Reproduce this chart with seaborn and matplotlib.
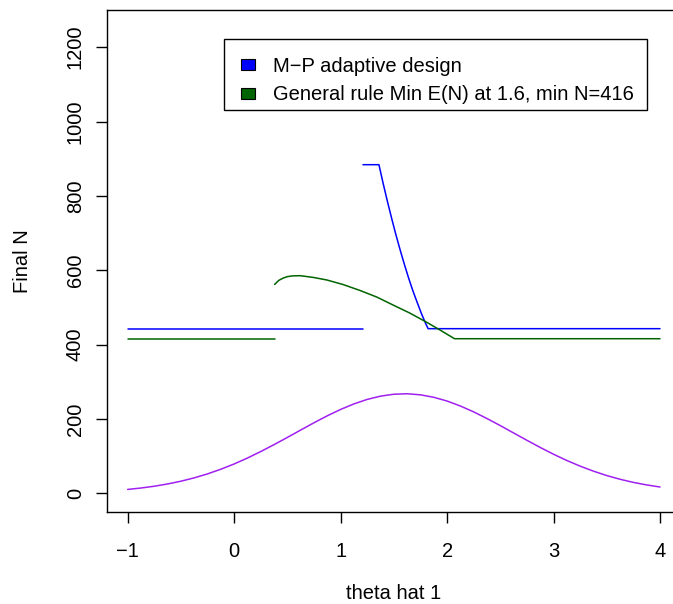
import matplotlib
matplotlib.use("Agg")
import matplotlib.pyplot as plt
import seaborn as sns
import numpy as np
import pandas as pd
from matplotlib.patches import Rectangle
from matplotlib.legend_handler import HandlerPatch

# ---- data ----
blue_left_x = [-1.0, 1.21]
blue_left_y = [443, 443]
blue_right_x = [1.21, 1.36, 1.40, 1.44, 1.48, 1.52, 1.56, 1.60, 1.64, 1.68, 1.72,
                1.76, 1.80, 1.822, 4.0]
blue_right_y = [884, 884, 833, 785, 739, 695, 654, 615, 578, 544, 513,
                483, 456, 443, 443]

green_left_x = [-1.0, 0.38]
green_left_y = [416, 416]
green_right_x = [0.38, 0.42, 0.46, 0.50, 0.55, 0.62, 0.74, 0.87, 1.02, 1.18, 1.34,
                 1.49, 1.65, 1.81, 1.93, 2.07, 4.0]
green_right_y = [562, 573, 579, 583, 585, 585.5, 581, 574, 562, 546, 528,
                 507, 485, 460, 440, 416, 416]

purple_x = [-1.0, -0.875, -0.75, -0.625, -0.5, -0.375, -0.25, -0.125, 0.0, 0.125,
            0.25, 0.375, 0.5, 0.625, 0.75, 0.875, 1.0, 1.125, 1.25, 1.375, 1.5,
            1.625, 1.75, 1.875, 2.0, 2.125, 2.25, 2.375, 2.5, 2.625, 2.75, 2.875,
            3.0, 3.125, 3.25, 3.375, 3.5, 3.625, 3.75, 3.875, 4.0]
purple_y = [10.7, 14.5, 19.3, 25.4, 32.8, 41.8, 52.5, 65.0, 79.2, 95.1,
            112.6, 131.2, 150.6, 170.4, 190.0, 208.7, 225.8, 240.7, 252.8, 261.6, 266.7,
            268.0, 265.1, 258.5, 248.4, 235.0, 219.2, 201.3, 182.3, 162.5, 142.8, 123.6,
            105.3, 88.5, 73.3, 59.8, 48.0, 38.0, 29.6, 22.8, 17.2]

legend_labels = ["M\u2212P adaptive design", "General rule Min E(N) at 1.6, min N=416"]
legend_colors = ["#0000FF", "#006400"]
x_ticks = [-1, 0, 1, 2, 3, 4]
y_ticks = [0, 200, 400, 600, 800, 1000, 1200]

# ---- style ----
sns.set_style("ticks")
plt.rcParams['font.family'] = ['Liberation Sans', 'DejaVu Sans']
plt.rcParams['text.color'] = 'black'
plt.rcParams['axes.labelcolor'] = 'black'
plt.rcParams['xtick.color'] = 'black'
plt.rcParams['ytick.color'] = 'black'
FS = 14.5

W, H = 673, 604
fig = plt.figure(figsize=(W / 100, H / 100), dpi=100)
left, right, top, bottom = 106.7, 673.0, 10.0, 512.0
ax = fig.add_axes([left / W, 1 - bottom / H, (right - left) / W, (bottom - top) / H])
ax.patch.set_visible(False)

lw = 1.1
segments = [
    (blue_left_x, blue_left_y, "#0000FF"),
    (blue_right_x, blue_right_y, "#0000FF"),
    (green_left_x, green_left_y, "#006400"),
    (green_right_x, green_right_y, "#006400"),
    (purple_x, purple_y, "#A020F0"),
]
for xs, ys, c in segments:
    df = pd.DataFrame({"x": xs, "y": ys})
    sns.lineplot(data=df, x="x", y="y", color=c, linewidth=lw, sort=False,
                 estimator=None, ax=ax)

ax.set_xlim(-1.197, 4.122)
ax.set_ylim(-50, 1300)
ax.set_xticks(x_ticks)
ax.set_yticks(y_ticks)
ax.set_xticklabels([f"{t}".replace("-", "\u2212") for t in x_ticks], fontsize=FS)
ax.set_yticklabels([str(t) for t in y_ticks], fontsize=FS, rotation=90, va="center")

for name, s in ax.spines.items():
    s.set_color("black")
    s.set_linewidth(1.0)
ax.spines["right"].set_visible(False)

ax.tick_params(axis="both", direction="out", length=7.9, width=1.0, color="black",
               labelcolor="black")
ax.tick_params(axis="x", pad=13.5)
ax.tick_params(axis="y", pad=7.9)

ax.set_xlabel("theta hat 1", fontsize=FS, va="center", color="black")
ax.xaxis.set_label_coords((394 - left) / (right - left), (bottom - 593.5) / (bottom - top))
ax.set_ylabel("Final N", fontsize=FS, va="center", color="black")
ax.yaxis.set_label_coords((23 - left) / (right - left), 0.5)


class SquareHandler(HandlerPatch):
    def create_artists(self, legend, orig_handle, xdescent, ydescent, width, height,
                       fontsize, trans):
        w = 14 * 0.72
        h = 11 * 0.72
        r = Rectangle((-xdescent, -ydescent + (height - h) / 2), w, h,
                      facecolor=orig_handle.get_facecolor(), edgecolor="black",
                      linewidth=0.8, transform=trans)
        return [r]


# legend frame drawn separately (inside the axes), entries placed inside it
frame = Rectangle((224 / W, 1 - 110 / H), (647 - 224) / W, (110 - 39.3) / H,
                  transform=fig.transFigure, facecolor="white", edgecolor="black",
                  linewidth=1.0, zorder=4, clip_on=False)
ax.add_patch(frame)

handles = [Rectangle((0, 0), 1, 1, facecolor=c) for c in legend_colors]
leg = ax.legend(handles, legend_labels, loc="upper left",
                bbox_to_anchor=(240.7 / W, 1 - 57.0 / H),
                bbox_transform=fig.transFigure, borderaxespad=0,
                fontsize=FS, borderpad=0, labelspacing=0.46,
                handlelength=14 / (FS * 100 / 72), handleheight=0.7,
                handletextpad=0.91, frameon=False,
                handler_map={Rectangle: SquareHandler()})
leg.set_zorder(6)
for t in leg.get_texts():
    t.set_color("black")

fig.savefig("out.png", dpi=100, facecolor="white")
